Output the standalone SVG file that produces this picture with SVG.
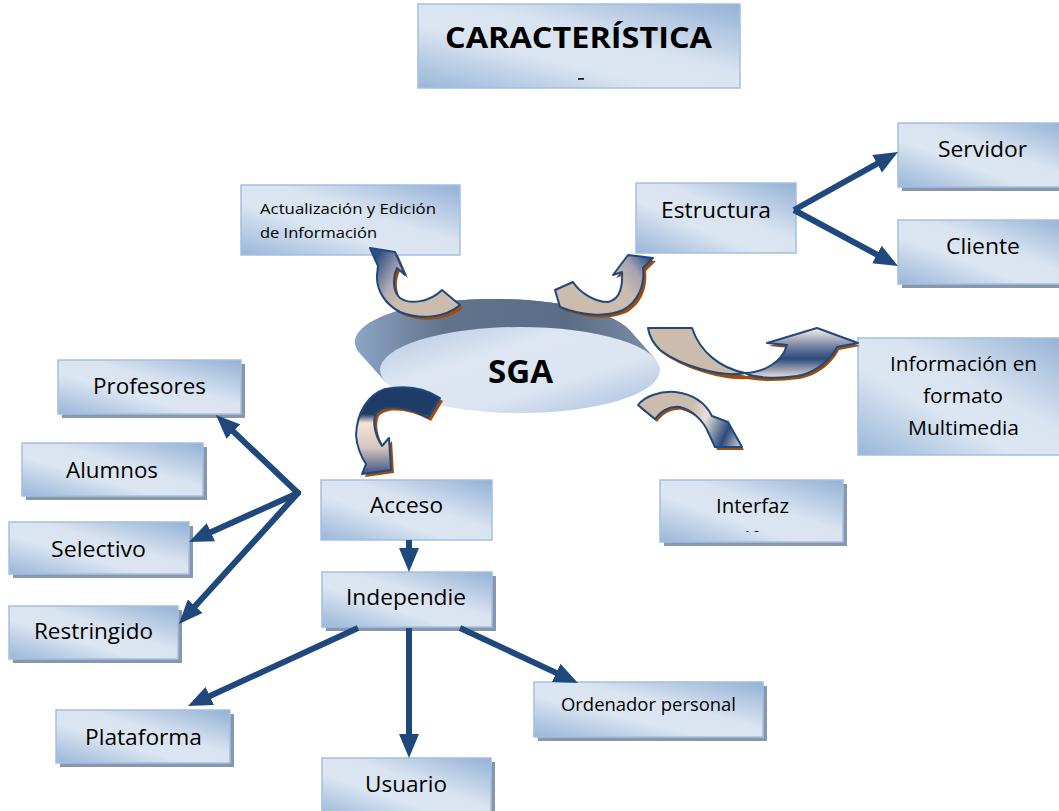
<svg xmlns="http://www.w3.org/2000/svg" width="1059" height="811" viewBox="0 0 1059 811">
  <defs>
    <!-- shared box shading: light centre, blue corners -->
    <linearGradient id="boxFill" x1="1" y1="0" x2="0" y2="1">
      <stop offset="0" stop-color="#93b1d6"/>
      <stop offset="0.42" stop-color="#dae4f1"/>
      <stop offset="0.62" stop-color="#dce6f2"/>
      <stop offset="1" stop-color="#99b6d9"/>
    </linearGradient>
    <linearGradient id="diskSide" gradientUnits="userSpaceOnUse" x1="350" y1="0" x2="660" y2="0">
      <stop offset="0" stop-color="#8ea8c8"/>
      <stop offset="0.3" stop-color="#62738d"/>
      <stop offset="0.7" stop-color="#5b6c86"/>
      <stop offset="1" stop-color="#7d90ab"/>
    </linearGradient>
    <linearGradient id="diskTop" x1="0" y1="0" x2="1" y2="1">
      <stop offset="0" stop-color="#b2c6e1"/>
      <stop offset="0.35" stop-color="#dde6f2"/>
      <stop offset="0.65" stop-color="#dbe4f1"/>
      <stop offset="1" stop-color="#a5bcdc"/>
    </linearGradient>
    <linearGradient id="gA" gradientUnits="userSpaceOnUse" x1="372" y1="265" x2="418" y2="292">
      <stop offset="0" stop-color="#30507f"/>
      <stop offset="0.5" stop-color="#b4adb9"/>
      <stop offset="0.75" stop-color="#cbbcae"/>
    </linearGradient>
    <linearGradient id="gB" gradientUnits="userSpaceOnUse" x1="600" y1="300" x2="650" y2="258">
      <stop offset="0" stop-color="#cbbcae"/>
      <stop offset="0.4" stop-color="#cbbcae"/>
      <stop offset="0.7" stop-color="#a7a3b4"/>
      <stop offset="1" stop-color="#2f4e7e"/>
    </linearGradient>
    <linearGradient id="gC" gradientUnits="userSpaceOnUse" x1="0" y1="330" x2="0" y2="378">
      <stop offset="0" stop-color="#f1e6de"/>
      <stop offset="0.4" stop-color="#5f7398"/>
      <stop offset="0.6" stop-color="#2c4a7c"/>
      <stop offset="1" stop-color="#f0e2d8"/>
    </linearGradient>
    <linearGradient id="gD" gradientUnits="userSpaceOnUse" x1="640" y1="400" x2="742" y2="447">
      <stop offset="0" stop-color="#cbbcae"/>
      <stop offset="0.45" stop-color="#cbbcae"/>
      <stop offset="0.6" stop-color="#ebe0d8"/>
      <stop offset="0.82" stop-color="#2c4a7c"/>
      <stop offset="1" stop-color="#e6d9cf"/>
    </linearGradient>
    <linearGradient id="gE" gradientUnits="userSpaceOnUse" x1="0" y1="386" x2="0" y2="474">
      <stop offset="0" stop-color="#1f3b68"/>
      <stop offset="0.32" stop-color="#1f3b68"/>
      <stop offset="0.42" stop-color="#f5e3d6"/>
      <stop offset="0.7" stop-color="#d6c6c0"/>
      <stop offset="1" stop-color="#3d5482"/>
    </linearGradient>
    <marker id="head" markerUnits="userSpaceOnUse" markerWidth="24" markerHeight="20" refX="10" refY="10" orient="auto">
      <path d="M0,0 L24,10 L0,20 Z" fill="#1f497d"/>
    </marker>
    <clipPath id="interfazClip">
      <rect x="660" y="480" width="183" height="52"/>
    </clipPath>
    <style>
      .box { fill: url(#boxFill); stroke: #a6bfdf; stroke-width: 1.5; }
      .shadow { fill: #8797ae; }
      .lbl { font-family: "Open Sans", "Liberation Sans", sans-serif; font-size: 21px; fill: #000; text-anchor: middle; }
      .sm { font-size: 14.5px; text-anchor: start; }
      .md { font-size: 19.5px; }
      .bold { font-weight: bold; }
      .link { stroke: #1f497d; stroke-width: 6; fill: none; marker-end: url(#head); }
      .hub { stroke-linecap: round; }
      .curl { stroke: #1f497d; stroke-width: 2; stroke-linejoin: round; }
      .curl-shadow { fill: #a04c0a; }
    </style>
  </defs>

  <rect width="1059" height="811" fill="#ffffff"/>

  <!-- title -->
  <g id="titulo">
    <rect class="box" x="418" y="4" width="322" height="84"/>
    <text class="lbl bold" x="578.5" y="48" style="font-size:29px" textLength="267" lengthAdjust="spacingAndGlyphs">CARACTERÍSTICA</text>
    <rect x="578" y="78" width="6" height="1.8" fill="#222"/>
  </g>

  <g id="actualizacion">
    <rect class="box" x="241" y="185" width="219" height="70"/>
    <text class="lbl sm" x="260" y="214" textLength="176" lengthAdjust="spacingAndGlyphs">Actualización y Edición</text>
    <text class="lbl sm" x="260" y="238" textLength="117" lengthAdjust="spacingAndGlyphs">de Información</text>
  </g>

  <g id="estructura">
    <rect class="box" x="636" y="183" width="160" height="70"/>
    <text class="lbl" x="716" y="218" textLength="110" lengthAdjust="spacingAndGlyphs">Estructura</text>
  </g>

  <g id="servidor">
    <rect class="shadow" x="902" y="127" width="170" height="64"/>
    <rect class="box" x="898" y="123" width="170" height="64"/>
    <text class="lbl" x="982.5" y="157" textLength="89" lengthAdjust="spacingAndGlyphs">Servidor</text>
  </g>

  <g id="cliente">
    <rect class="shadow" x="902" y="224" width="170" height="64"/>
    <rect class="box" x="898" y="220" width="170" height="64"/>
    <text class="lbl" x="983" y="254" textLength="74" lengthAdjust="spacingAndGlyphs">Cliente</text>
  </g>

  <g id="informacion">
    <rect class="box" x="858" y="338" width="210" height="117"/>
    <text class="lbl md" x="963.5" y="371" textLength="147" lengthAdjust="spacingAndGlyphs">Información en</text>
    <text class="lbl md" x="963" y="403" textLength="80" lengthAdjust="spacingAndGlyphs">formato</text>
    <text class="lbl md" x="963.5" y="435" textLength="111" lengthAdjust="spacingAndGlyphs">Multimedia</text>
  </g>

  <g id="interfaz">
    <rect class="shadow" x="664" y="484" width="183" height="62"/>
    <rect class="box" x="660" y="480" width="183" height="62"/>
    <text class="lbl md" x="752.5" y="513" textLength="73" lengthAdjust="spacingAndGlyphs">Interfaz</text>
    <text class="lbl md" x="752.5" y="546" clip-path="url(#interfazClip)">gráfica</text>
  </g>

  <g id="profesores">
    <rect class="shadow" x="62" y="364" width="183" height="54"/>
    <rect class="box" x="58" y="360" width="183" height="54"/>
    <text class="lbl" x="149.5" y="394" textLength="113" lengthAdjust="spacingAndGlyphs">Profesores</text>
  </g>

  <g id="alumnos">
    <rect class="shadow" x="26" y="447" width="181" height="53"/>
    <rect class="box" x="22" y="443" width="181" height="53"/>
    <text class="lbl" x="112" y="478" textLength="92" lengthAdjust="spacingAndGlyphs">Alumnos</text>
  </g>

  <g id="selectivo">
    <rect class="shadow" x="13" y="526" width="180" height="52"/>
    <rect class="box" x="9" y="522" width="180" height="52"/>
    <text class="lbl" x="98.5" y="557" textLength="95" lengthAdjust="spacingAndGlyphs">Selectivo</text>
  </g>

  <g id="restringido">
    <rect class="shadow" x="13" y="610" width="169" height="53"/>
    <rect class="box" x="9" y="606" width="169" height="53"/>
    <text class="lbl" x="93.5" y="639" textLength="119" lengthAdjust="spacingAndGlyphs">Restringido</text>
  </g>

  <g id="acceso">
    <rect class="box" x="321" y="480" width="171" height="60"/>
    <text class="lbl" x="406.5" y="513" textLength="73" lengthAdjust="spacingAndGlyphs">Acceso</text>
  </g>

  <g id="independie">
    <rect class="shadow" x="326" y="576" width="170" height="55"/>
    <rect class="box" x="322" y="572" width="170" height="55"/>
    <text class="lbl" x="406" y="605" textLength="120" lengthAdjust="spacingAndGlyphs">Independie</text>
  </g>

  <g id="plataforma">
    <rect class="shadow" x="60" y="714" width="174" height="53"/>
    <rect class="box" x="56" y="710" width="174" height="53"/>
    <text class="lbl" x="143.5" y="745" textLength="117" lengthAdjust="spacingAndGlyphs">Plataforma</text>
  </g>

  <g id="usuario">
    <rect class="shadow" x="326" y="762" width="169" height="60"/>
    <rect class="box" x="322" y="758" width="169" height="60"/>
    <text class="lbl" x="406" y="792" textLength="82" lengthAdjust="spacingAndGlyphs">Usuario</text>
  </g>

  <g id="ordenador">
    <rect class="shadow" x="538" y="686" width="229" height="55"/>
    <rect class="box" x="534" y="682" width="229" height="55"/>
    <text class="lbl" x="648.5" y="711" style="font-size:17.5px" textLength="175" lengthAdjust="spacingAndGlyphs">Ordenador personal</text>
  </g>

  <!-- central disk: extruded side, then top face -->
  <g id="sga">
    <path fill="url(#diskSide)" d="M360,353.4 A140,43 0 0 1 630,330.6 L655,358.6 L385,381.4 Z"/>
    <ellipse cx="495" cy="342" rx="140" ry="43" fill="url(#diskSide)"/>
    <ellipse cx="520" cy="370" rx="140" ry="43" fill="url(#diskTop)"/>
    <text class="lbl bold" x="520.5" y="383" style="font-size:32px" textLength="65" lengthAdjust="spacingAndGlyphs">SGA</text>
  </g>

  <g id="connectors">
    <!-- straight arrows -->
    <line class="link hub" x1="298" y1="493" x2="226.1" y2="424.6"/>
    <line class="link hub" x1="298" y1="493" x2="201.8" y2="536.3"/>
    <line class="link hub" x1="298" y1="493" x2="188.4" y2="613.6"/>
    <line class="link" x1="794" y1="210" x2="885.8" y2="158.9"/>
    <line class="link" x1="794" y1="210" x2="885.7" y2="259.3"/>
    <line class="link" x1="409" y1="540" x2="409" y2="558"/>
    <line class="link" x1="358" y1="628" x2="200.7" y2="700.2"/>
    <line class="link" x1="409" y1="628" x2="409" y2="744"/>
    <line class="link" x1="460" y1="628" x2="565.3" y2="677.1"/>

    <!-- curved block arrows leaving the disk -->
    <g id="curl-actualizacion">
      <path class="curl-shadow" transform="translate(3,3)" d="M370,248 L395,252 L405,275 L397,268 C392,278 393,292 400,298 C410,305 430,302 442,290 L460,305 C445,318 420,320 400,312 C385,304 376,290 377,275 L378,266 Z"/>
      <path class="curl" fill="url(#gA)" d="M370,248 L395,252 L405,275 L397,268 C392,278 393,292 400,298 C410,305 430,302 442,290 L460,305 C445,318 420,320 400,312 C385,304 376,290 377,275 L378,266 Z"/>
    </g>
    <g id="curl-estructura">
      <path class="curl-shadow" transform="translate(3,3)" d="M555,290 L573,282 C580,293 595,302 608,302 C618,300 623,290 622,272 L613,275 L628,255 L653,258 L643,268 C645,285 638,302 623,310 C605,318 580,315 560,307 Z"/>
      <path class="curl" fill="url(#gB)" d="M555,290 L573,282 C580,293 595,302 608,302 C618,300 623,290 622,272 L613,275 L628,255 L653,258 L643,268 C645,285 638,302 623,310 C605,318 580,315 560,307 Z"/>
    </g>
    <g id="curl-informacion">
      <path class="curl-shadow" transform="translate(2,3)" d="M648,328 L692,328 C700,352 720,368 745,373 C765,372 782,362 787,345 L767,343 L817,328 L858,343 L837,347 C830,362 812,374 797,376 C775,379 755,378 745,376 C720,378 680,365 660,350 C652,342 649,335 648,328 Z"/>
      <path class="curl" fill="#cbbcae" d="M648,328 L692,328 C700,352 720,368 745,373 C720,378 680,365 660,350 C652,342 649,335 648,328 Z"/>
      <path class="curl" fill="url(#gC)" d="M745,373 C765,372 782,362 787,345 L767,343 L817,328 L858,343 L837,347 C830,362 812,374 797,376 C775,379 755,378 745,373 Z"/>
    </g>
    <g id="curl-interfaz">
      <path class="curl-shadow" transform="translate(2,3)" d="M638,405 C645,396 660,391 675,392 C692,394 705,402 712,416 L728,422 L742,447 L715,447 L708,432 C703,420 692,410 680,407 C670,406 662,410 655,419 Z"/>
      <path class="curl" fill="url(#gD)" d="M638,405 C645,396 660,391 675,392 C692,394 705,402 712,416 L728,422 L742,447 L715,447 L708,432 C703,420 692,410 680,407 C670,406 662,410 655,419 Z"/>
    </g>
    <g id="curl-acceso">
      <path class="curl-shadow" transform="translate(3,3)" d="M440,398 C425,388 405,385 385,389 C368,395 357,412 356,435 C357,447 362,458 366,464 L362,474 L391,470 L389,438 L382,446 C375,435 372,422 376,413 C383,405 405,405 428,418 Z"/>
      <path class="curl" fill="url(#gE)" d="M440,398 C425,388 405,385 385,389 C368,395 357,412 356,435 C357,447 362,458 366,464 L362,474 L391,470 L389,438 L382,446 C375,435 372,422 376,413 C383,405 405,405 428,418 Z"/>
    </g>
  </g>
</svg>
